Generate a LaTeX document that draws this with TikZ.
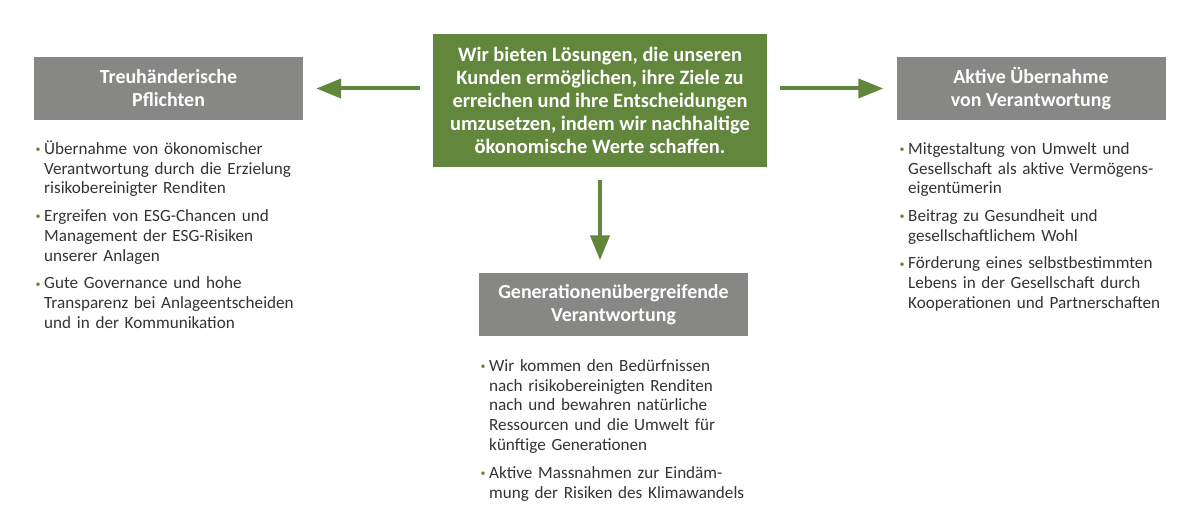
\documentclass[tikz,border=0pt]{standalone}
\usepackage{fontspec}
\setmainfont{Carlito}
\usetikzlibrary{arrows.meta}
\definecolor{leafgreen}{HTML}{62873C}
\definecolor{boxgray}{HTML}{878786}
\definecolor{bodygray}{HTML}{333333}
\tikzset{
  headbox/.style={fill=boxgray, text=white, font=\bfseries\fontsize{20}{23}\selectfont, minimum width=269bp, minimum height=63bp, align=center, inner sep=0pt},
  corebox/.style={fill=leafgreen, text=white, font=\bfseries\fontsize{20.5}{23}\selectfont, minimum width=334bp, minimum height=133bp, align=center, inner sep=0pt},
  pointlist/.style={text=bodygray, font=\fontsize{17.2}{20}\selectfont, align=left, text width=265bp, inner sep=0pt, anchor=north west},
  greenarrow/.style={draw=leafgreen, line width=4bp, -{Triangle[length=25bp,width=19bp]}, shorten <=13bp, shorten >=13bp}
}
% bullet hangs out to the left of the text column
\newcommand\listpoint[1]{\par\noindent\llap{\makebox[8.5bp][l]{\raisebox{1.5bp}{\textcolor{leafgreen}{\fontsize{10}{10}\selectfont\textbullet}}}}#1}
\newcommand\listgap{\par\vspace{7.5bp}}

\begin{document}
\begin{tikzpicture}[x=1bp,y=-1bp]
\useasboundingbox (0,0) rectangle (1200,532);
\draw (600,100.5) node[corebox](core) {Wir bieten Lösungen, die unseren\\Kunden ermöglichen, ihre Ziele zu\\erreichen und ihre Entscheidungen\\umzusetzen, indem wir nachhaltige\\ökonomische Werte schaffen.};
\draw (168.5,88.5) node[headbox](duty) {Treuhänderische\\Pflichten};
\draw (1031,88.5) node[headbox](active) {Aktive Übernahme\\von Verantwortung};
\draw (613.5,305) node[headbox](generation) {Generationenübergreifende\\Verantwortung};
\draw[greenarrow] (core.west |- duty.east) -- (duty.east);
\draw[greenarrow] (core.east |- active.west) -- (active.west);
\draw[greenarrow] (core.south) -- (core.south |- generation.north);
\draw (44,134) node[pointlist](dutylist) {%
\listpoint{Übernahme von ökonomischer\newline Verantwortung durch die Erzielung\newline risikobereinigter Renditen}\listgap
\listpoint{Ergreifen von ESG-Chancen und\newline Management der ESG-Risiken\newline unserer Anlagen}\listgap
\listpoint{Gute Governance und hohe\newline Transparenz bei Anlageentscheiden\newline und in der Kommunikation}};
\draw (908,134) node[pointlist](activelist) {%
\listpoint{Mitgestaltung von Umwelt und\newline Gesellschaft als aktive Vermögens-\newline eigentümerin}\listgap
\listpoint{Beitrag zu Gesundheit und\newline gesellschaftlichem Wohl}\listgap
\listpoint{Förderung eines selbstbestimmten\newline Lebens in der Gesellschaft durch\newline Kooperationen und Partnerschaften}};
\draw (489,351) node[pointlist](generationlist) {%
\listpoint{Wir kommen den Bedürfnissen\newline nach risikobereinigten Renditen\newline nach und bewahren natürliche\newline Ressourcen und die Umwelt für\newline künftige Generationen}\listgap
\listpoint{Aktive Massnahmen zur Eindäm-\newline mung der Risiken des Klimawandels}};
\end{tikzpicture}
\end{document}
